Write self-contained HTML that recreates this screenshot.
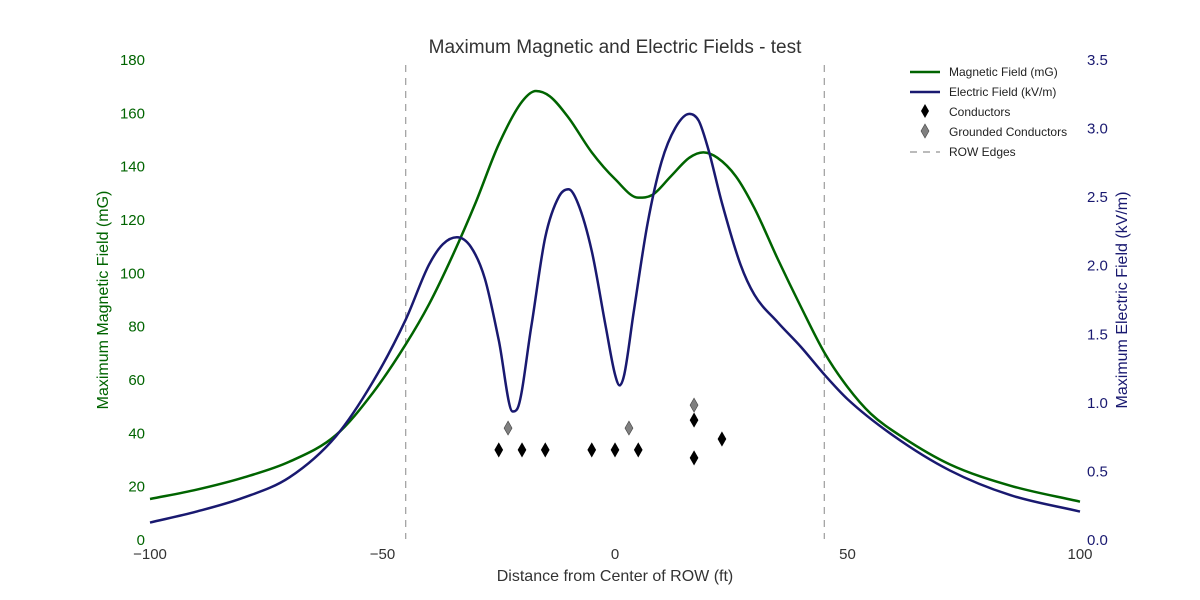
<!DOCTYPE html>
<html><head><meta charset="utf-8">
<style>
body{margin:0;background:#fff;}
svg{display:block;font-family:"Liberation Sans",sans-serif;}
</style></head>
<body>
<svg id="chart" width="1200" height="600" viewBox="0 0 1200 600">
<text x="615" y="53" text-anchor="middle" font-size="19" fill="#333">Maximum Magnetic and Electric Fields - test</text>
<g id="xticks"></g>
<g id="yl"></g>
<g id="yr"></g>
<g id="marks"></g>
<text x="615" y="581" text-anchor="middle" font-size="16" fill="#333">Distance from Center of ROW (ft)</text>
<text transform="translate(108,300) rotate(-90)" text-anchor="middle" font-size="16" fill="#006400">Maximum Magnetic Field (mG)</text>
<text transform="translate(1127,300) rotate(-90)" text-anchor="middle" font-size="16" fill="#191970">Maximum Electric Field (kV/m)</text>
<g font-size="12" fill="#222">
<line x1="910" y1="72" x2="940" y2="72" stroke="#006400" stroke-width="2.5"/><text x="949" y="76">Magnetic Field (mG)</text>
<line x1="910" y1="92" x2="940" y2="92" stroke="#191970" stroke-width="2.5"/><text x="949" y="96">Electric Field (kV/m)</text>
<polygon points="925,104 929,111 925,118 921,111" fill="#000"/><text x="949" y="116">Conductors</text>
<polygon points="925,124 929,131 925,138 921,131" fill="#808080" stroke="#444" stroke-width="0.6"/><text x="949" y="136">Grounded Conductors</text>
<line x1="910" y1="152" x2="940" y2="152" stroke="#777" stroke-dasharray="7,6"/><text x="949" y="156">ROW Edges</text>
</g>
</svg>
<script>
const magX=[-100,-90,-80,-70,-60,-52,-45,-40,-35,-30,-25,-20,-17,-14,-10,-5,0,5,8,12,16,19,22,26,30,35,40,45,50,55,62,72,85,100];
const magY=[15,18.5,23,29,39,55,73,88,106,126,148,164,168,166,158,145,135,128,129,136,143,145,143,136,124,105,87,70,57,47,38,28,20,14];
const elX=[-100,-90,-80,-70,-60,-52,-45,-40,-37,-34,-31,-28,-25,-22,-21,-18,-15,-12,-10,-8,-5,-2,0,1,2,4,7,10,13,16,18,20,23,27,30,35,40,45,50,60,72,85,100];
const elY=[0.12,0.2,0.3,0.45,0.75,1.15,1.6,2.0,2.15,2.2,2.13,1.9,1.45,0.93,0.95,1.55,2.2,2.5,2.55,2.45,2.1,1.55,1.2,1.12,1.2,1.65,2.3,2.75,3.0,3.1,3.05,2.85,2.45,2.0,1.78,1.58,1.4,1.2,1.02,0.75,0.5,0.32,0.2];
const condX=[-25,-20,-15,-5,0,5,17,17,23];
const condY=[33.4,33.4,33.4,33.4,33.4,33.4,44.6,30.4,37.5];
const gndX=[-23,3,17];
const gndY=[41.6,41.6,50.2];
const rowEdges=[-45,45];
const xTicks=[-100,-50,0,50,100];
const ylTicks=[0,20,40,60,80,100,120,140,160,180];
const yrTicks=[0,0.5,1,1.5,2,2.5,3,3.5];
const NS='http://www.w3.org/2000/svg';
const X=v=>150+(v+100)*930/200;
const YL=v=>539-v*480/180;
const YR=v=>539-v*480/3.5;
function mk(t,a,p){const e=document.createElementNS(NS,t);for(const k in a)e.setAttribute(k,a[k]);p.appendChild(e);return e;}
const xt=document.getElementById('xticks'),yl=document.getElementById('yl'),yr=document.getElementById('yr'),m=document.getElementById('marks');
xTicks.forEach(v=>{const t=mk('text',{x:X(v),y:559,'text-anchor':'middle','font-size':15,fill:'#333'},xt);t.textContent=v<0?'\u2212'+(-v):v;

});
ylTicks.forEach(v=>{const t=mk('text',{x:145,y:YL(v)+6,'text-anchor':'end','font-size':15,fill:'#006400'},yl);t.textContent=v;

});
yrTicks.forEach(v=>{const t=mk('text',{x:1087,y:YR(v)+6,'font-size':15,fill:'#191970'},yr);t.textContent=v.toFixed(1);

});
rowEdges.forEach(v=>{const l=mk('line',{x1:X(v),x2:X(v),y1:65,y2:539,stroke:'#888','stroke-dasharray':'7,6'},m);

});
function smooth(xs,ys,fy){
  const px=xs.map(X),py=ys.map(fy),n=px.length;
  const d=[],t=[];for(let i=0;i<n-1;i++)d.push((py[i+1]-py[i])/(px[i+1]-px[i]));
  t[0]=d[0];t[n-1]=d[n-2];
  for(let i=1;i<n-1;i++){t[i]=(d[i-1]*d[i]<=0)?0:(d[i-1]+d[i])/2;}
  for(let i=0;i<n-1;i++){if(d[i]===0){t[i]=0;t[i+1]=0;continue;}const a=t[i]/d[i],b=t[i+1]/d[i],s=a*a+b*b;if(s>9){const k=3/Math.sqrt(s);t[i]=k*a*d[i];t[i+1]=k*b*d[i];}}
  let p='M'+px[0]+','+py[0];
  for(let i=0;i<n-1;i++){const h=(px[i+1]-px[i])/3;p+='C'+(px[i]+h)+','+(py[i]+t[i]*h)+' '+(px[i+1]-h)+','+(py[i+1]-t[i+1]*h)+' '+px[i+1]+','+py[i+1];}
  return p;}
const mg=mk('path',{d:smooth(magX,magY,YL),fill:'none',stroke:'#006400','stroke-width':2.5},m);


const el=mk('path',{d:smooth(elX,elY,YR),fill:'none',stroke:'#191970','stroke-width':2.5},m);


function dia(x,y,f,s,n){const cx=X(x),cy=YL(y);const d=mk('polygon',{points:`${cx},${cy-7} ${cx+4},${cy} ${cx},${cy+7} ${cx-4},${cy}`,fill:f,stroke:s,'stroke-width':0.6},m);

}
condX.forEach((x,i)=>dia(x,condY[i],'#000','#000','conductor-marker'));
gndX.forEach((x,i)=>dia(x,gndY[i],'#808080','#444','grounded-conductor-marker'));
</script>
</body></html>
